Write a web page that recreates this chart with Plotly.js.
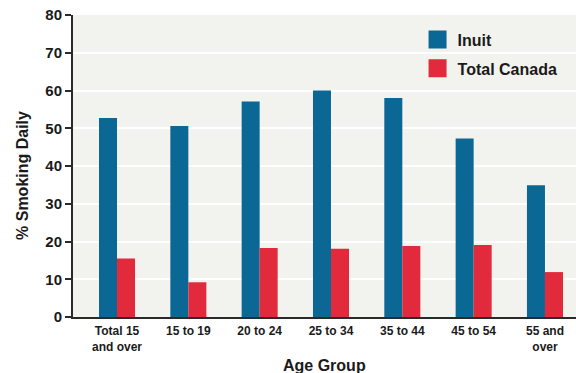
<!DOCTYPE html>
<html>
<head>
<meta charset="utf-8">
<script src="https://cdn.plot.ly/plotly-3.0.1.min.js"></script>
<style>
  html, body { margin: 0; padding: 0; background: #ffffff; }
  #chart { width: 576px; height: 373px; }
</style>
</head>
<body>
<div id="chart"></div>
<script>
// Daily smoking rates by age group, Inuit vs. all of Canada
const ageGroups = ["Total 15<br>and over", "15 to 19", "20 to 24", "25 to 34", "35 to 44", "45 to 54", "55 and<br>over"];
const inuit = [52.7, 50.6, 57.1, 60.0, 58.0, 47.3, 34.9];
const totalCanada = [15.5, 9.2, 18.3, 18.1, 18.8, 19.1, 11.9];
const yTicks = [0, 10, 20, 30, 40, 50, 60, 70, 80];

const fontFamily = "Liberation Sans, Arial, sans-serif";
const ink = "#1a1a1a";

const traces = [
  {
    type: "bar", name: "Inuit", legendgroup: "inuit", x: ageGroups, y: inuit,
    marker: { color: "#0b6894", line: { width: 0 } }
  },
  {
    type: "bar", name: "Total Canada", legendgroup: "canada", x: ageGroups, y: totalCanada,
    marker: { color: "#e12a3c", line: { width: 0 } }
  }
];

const layout = {
  width: 576, height: 373,
  margin: { l: 73, r: 0, t: 15, b: 56 },
  paper_bgcolor: "#ffffff",
  plot_bgcolor: "#f2f2ee",
  barmode: "group",
  bargap: 0.495,
  bargroupgap: 0,
  font: { family: fontFamily, color: ink },
  showlegend: true,
  legend: {
    x: 0.685, y: 0.975, xanchor: "left", yanchor: "top",
    bgcolor: "rgba(0,0,0,0)",
    font: { size: 16, family: fontFamily, color: ink, weight: "bold" },
    itemwidth: 30, tracegroupgap: 5
  },
  xaxis: {
    type: "category",
    range: [-0.617, 6.435],
    showgrid: false,
    showline: true, linecolor: "#2a2a2a", linewidth: 2,
    ticks: "", ticklabelstandoff: 2,
    tickfont: { size: 12, family: fontFamily, color: ink, weight: "bold" },
    fixedrange: true
  },
  yaxis: {
    range: [0, 80],
    tickvals: yTicks,
    showgrid: true, gridcolor: "#ffffff", gridwidth: 2,
    zeroline: false,
    showline: true, linecolor: "#2a2a2a", linewidth: 2,
    ticks: "outside", ticklen: 6, tickwidth: 2, tickcolor: "#2a2a2a",
    tickfont: { size: 15, family: fontFamily, color: ink, weight: "bold" },
    fixedrange: true
  },
  annotations: [
    {
      text: "% Smoking Daily", textangle: -90,
      xref: "paper", yref: "paper", x: 0, y: 0.467,
      xanchor: "center", yanchor: "middle", xshift: -50,
      showarrow: false,
      font: { size: 16, family: fontFamily, color: ink, weight: "bold" }
    },
    {
      text: "Age Group",
      xref: "paper", yref: "paper", x: 0.5, y: 0,
      xanchor: "center", yanchor: "middle", yshift: -48,
      showarrow: false,
      font: { size: 16, family: fontFamily, color: ink, weight: "bold" }
    }
  ]
};

Plotly.newPlot("chart", traces, layout, { staticPlot: true, displayModeBar: false }).then(function (gd) {
  // Enlarge the legend swatches to 18px squares
  gd.querySelectorAll(".legend .legendpoints path").forEach(function (p) {
    const t = p.getAttribute("transform") || "";
    p.setAttribute("transform", t + " scale(1.5)");
  });
});
</script>
</body>
</html>
